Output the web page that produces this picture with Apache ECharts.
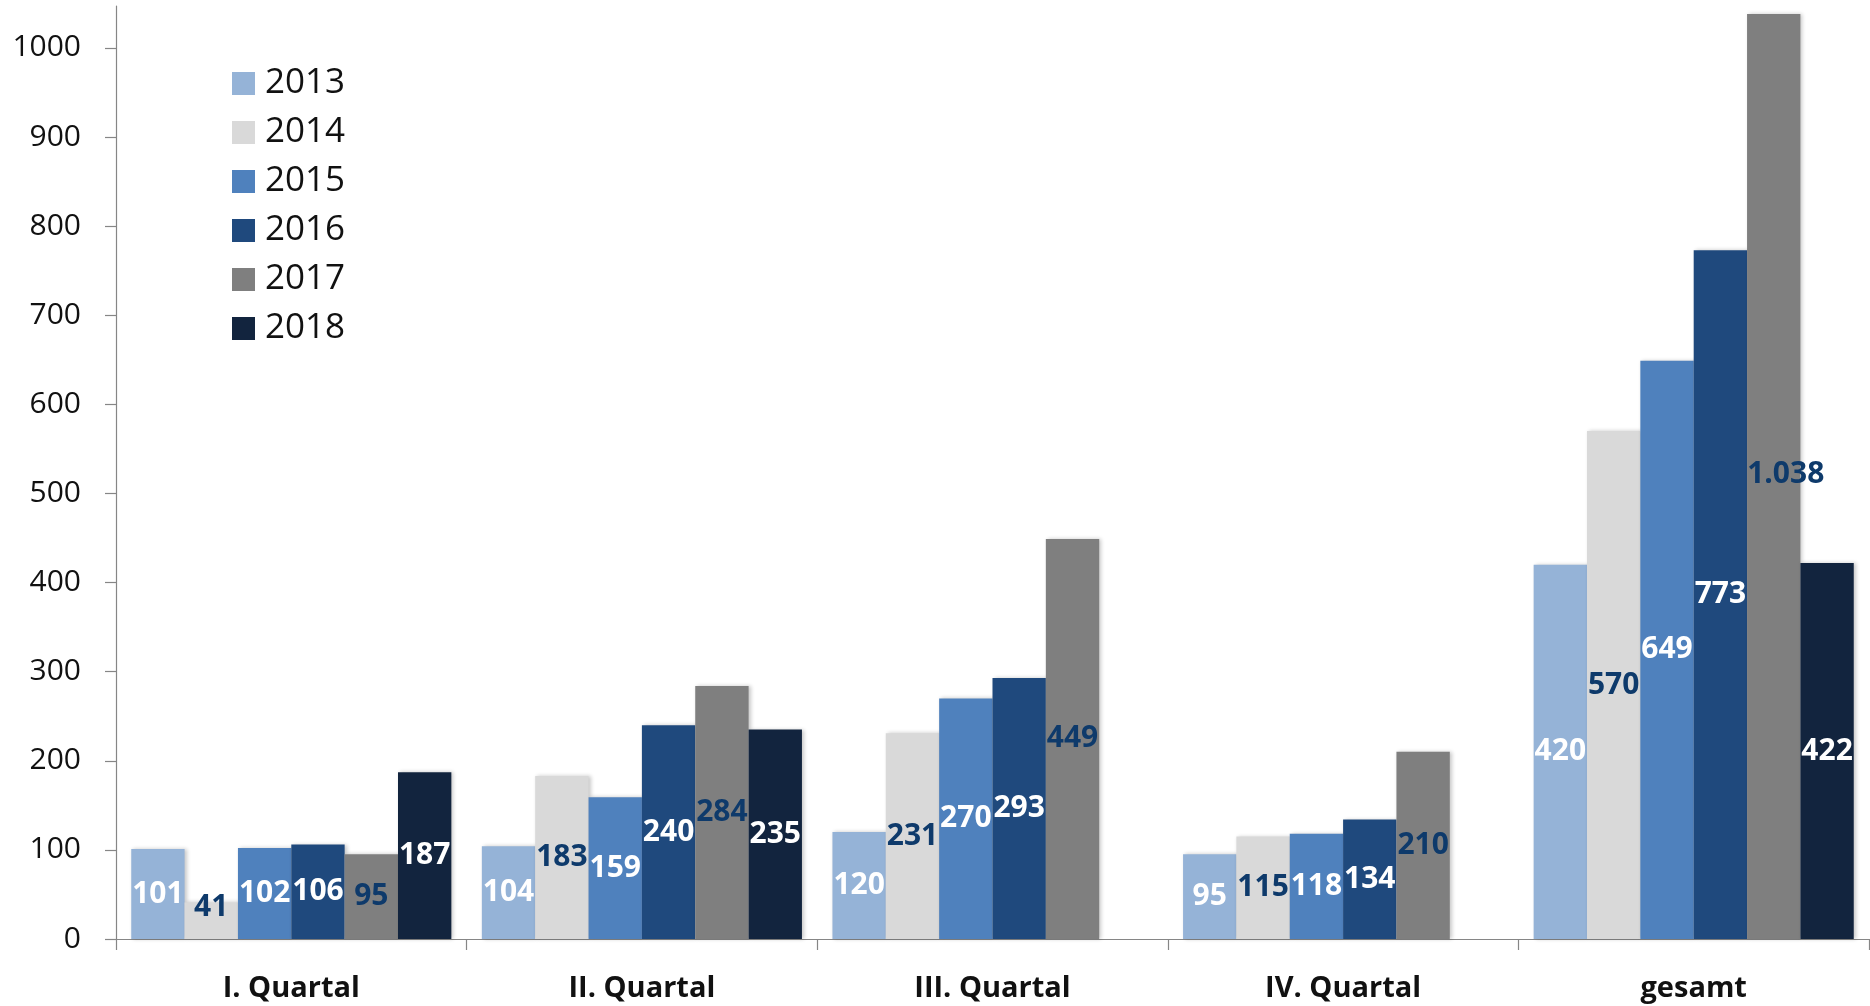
<!DOCTYPE html>
<html>
<head>
<meta charset="utf-8">
<title>Quartale 2013–2018</title>
<script src="https://cdn.jsdelivr.net/npm/echarts@6/dist/echarts.min.js"></script>
<style>
  html, body { margin: 0; padding: 0; background: #ffffff; }
  #chart { width: 1870px; height: 1006px; }
</style>
</head>
<body>
<div id="chart"></div>
<script>
// Categories along the x axis
const categories = ['I. Quartal', 'II. Quartal', 'III. Quartal', 'IV. Quartal', 'gesamt'];

// Year series (null = no value for that quarter yet)
const years = ['2013', '2014', '2015', '2016', '2017', '2018'];
const values2013 = [101, 104, 120, 95, 420];
const values2014 = [41, 183, 231, 115, 570];
const values2015 = [102, 159, 270, 118, 649];
const values2016 = [106, 240, 293, 134, 773];
const values2017 = [95, 284, 449, 210, 1038];
const values2018 = [187, 235, null, null, 422];

// Value-axis tick labels
const yTicks = [0, 100, 200, 300, 400, 500, 600, 700, 800, 900, 1000];

const seriesValues = [values2013, values2014, values2015, values2016, values2017, values2018];
const barColors = ['#95b3d7', '#d9d9d9', '#4f81bd', '#1f497d', '#7f7f7f', '#12243e'];
const labelColors = ['#ffffff', '#0e3a6b', '#ffffff', '#ffffff', '#0e3a6b', '#ffffff'];

const FONT = '"Open Sans", "Liberation Sans", sans-serif';

// German number format: 1038 -> "1.038"
function deNumber(v) {
  return String(v).replace(/\B(?=(\d{3})+(?!\d))/g, '.');
}

// Individually nudged labels: [seriesIndex, categoryIndex, offset]
const labelNudges = [
  [1, 0, [0, -13]],  // 2014, I. Quartal: short bar, label lifted
  [4, 4, [12, -2]]   // 2017, gesamt: label sits right of bar centre
];

const chart = echarts.init(document.getElementById('chart'), null, { renderer: 'canvas' });

const series = years.map((year, i) => ({
  name: year,
  type: 'bar',
  barGap: '0%',
  barCategoryGap: '8.7%',
  clip: false,
  itemStyle: {
    color: barColors[i],
    shadowColor: 'rgba(0,0,0,0.22)',
    shadowBlur: 4,
    shadowOffsetX: 2,
    shadowOffsetY: 0
  },
  label: {
    show: true,
    position: 'inside',
    color: labelColors[i],
    fontFamily: FONT,
    fontWeight: 'bold',
    fontSize: 30,
    formatter: p => (p.value == null ? '' : deNumber(p.value))
  },
  data: seriesValues[i].map((v, j) => {
    const nudge = labelNudges.find(n => n[0] === i && n[1] === j);
    return nudge ? { value: v, label: { offset: nudge[2] } } : v;
  })
}));

chart.setOption({
  animation: false,
  backgroundColor: '#ffffff',
  color: barColors,
  grid: { left: 116, right: 1, top: 6, bottom: 67, containLabel: false },
  legend: {
    orient: 'vertical',
    left: 227,
    top: 61,
    itemWidth: 23,
    itemHeight: 23,
    itemGap: 14,
    icon: 'rect',
    data: years,
    textStyle: {
      fontFamily: FONT,
      fontSize: 35,
      color: '#111111',
      padding: [0, 0, 0, 5]
    }
  },
  xAxis: {
    type: 'category',
    data: categories,
    boundaryGap: true,
    axisLine: { show: true, lineStyle: { color: '#868686', width: 1.2 } },
    axisTick: { show: true, length: 11, lineStyle: { color: '#868686', width: 1.2 } },
    axisLabel: {
      margin: 35,
      fontFamily: FONT,
      fontWeight: 'bold',
      fontSize: 29,
      color: '#111111'
    },
    splitLine: { show: false }
  },
  yAxis: {
    type: 'value',
    min: 0,
    max: 1047,
    interval: 100,
    axisLine: { show: true, lineStyle: { color: '#868686', width: 1.2 } },
    axisTick: { show: true, length: 11, lineStyle: { color: '#868686', width: 1.2 } },
    axisLabel: {
      margin: 35,
      fontFamily: FONT,
      fontSize: 30,
      color: '#111111',
      showMaxLabel: false,
      formatter: v => (yTicks.indexOf(v) >= 0 ? String(v) : '')
    },
    splitLine: { show: false }
  },
  series: series
});
</script>
</body>
</html>
